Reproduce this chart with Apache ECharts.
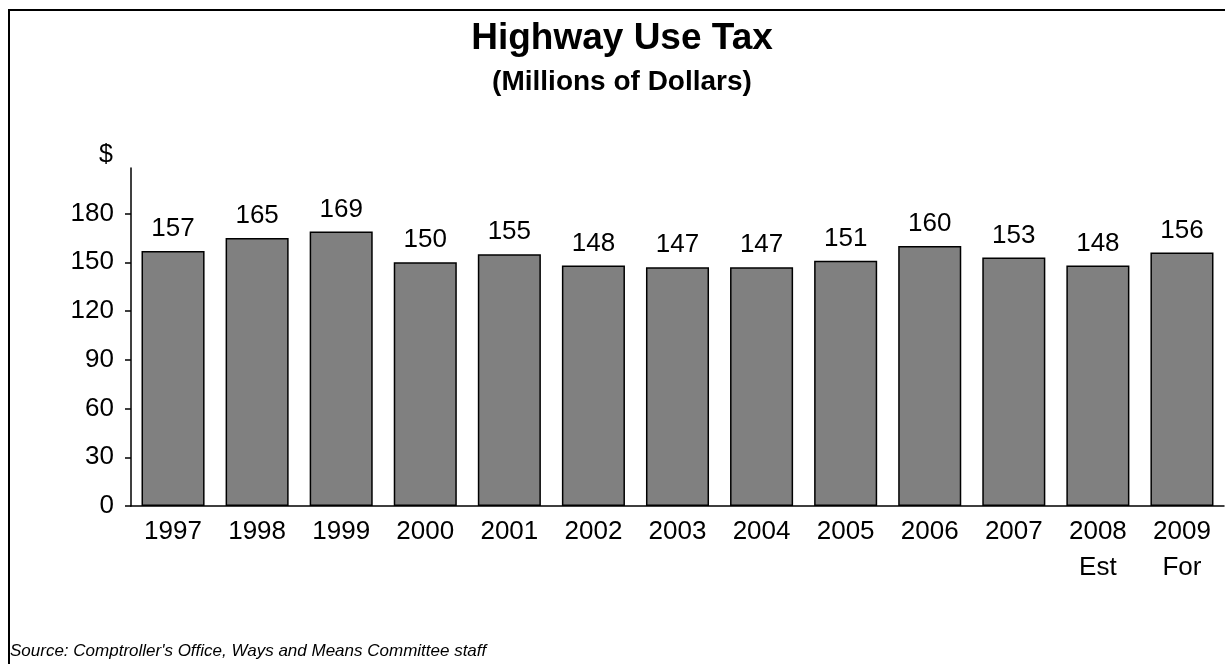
<!DOCTYPE html>
<html>
<head>
<meta charset="utf-8">
<title>Highway Use Tax</title>
<script src="https://cdn.jsdelivr.net/npm/echarts@6/dist/echarts.min.js"></script>
<style>
  html, body { margin: 0; padding: 0; background: #fff; overflow: hidden; }
  #chart { width: 1225px; height: 664px; }
  /* outer frame of the original picture, cut off on the right and bottom */
  #frame {
    position: absolute; left: 8px; top: 9px; width: 1400px; height: 800px;
    border-top: 2px solid #000; border-left: 2px solid #000;
    pointer-events: none;
  }
</style>
</head>
<body>
<div id="chart"></div>
<div id="frame"></div>
<script>
// data
var years = ['1997', '1998', '1999', '2000', '2001', '2002', '2003', '2004', '2005', '2006', '2007', '2008', '2009'];
var yearNotes = ['', '', '', '', '', '', '', '', '', '', '', 'Est', 'For'];
var taxValues = [157, 165, 169, 150, 155, 148, 147, 147, 151, 160, 153, 148, 156];
var yTicks = [0, 30, 60, 90, 120, 150, 180];

var font = "'Liberation Sans', Arial, sans-serif";

var categories = years.map(function (y, i) {
  return yearNotes[i] ? y + '\n' + yearNotes[i] : y;
});

var chart = echarts.init(document.getElementById('chart'));

var option = {
  animation: false,
  textStyle: { fontFamily: font, color: '#000' },
  title: [
    {
      text: 'Highway Use Tax',
      left: 617, top: 15,
      textAlign: 'center',
      textStyle: { fontFamily: font, fontSize: 37, fontWeight: 'bold', color: '#000' }
    },
    {
      text: '(Millions of Dollars)',
      left: 617, top: 63,
      textAlign: 'center',
      textStyle: { fontFamily: font, fontSize: 28, fontWeight: 'bold', color: '#000' }
    },
    {
      text: "Source: Comptroller's Office, Ways and Means Committee staff",
      left: 10, top: 643,
      padding: 0,
      textStyle: { fontFamily: font, fontSize: 17, fontStyle: 'italic', fontWeight: 'normal', color: '#000' }
    }
  ],
  grid: { left: 131, right: 1, top: 168, bottom: 158, containLabel: false },
  xAxis: {
    type: 'category',
    data: categories,
    axisLine: { lineStyle: { color: '#000', width: 1.5 } },
    axisTick: { show: false },
    axisLabel: {
      margin: 8,
      interval: 0,
      fontFamily: font,
      fontSize: 26,
      lineHeight: 36,
      color: '#000'
    }
  },
  yAxis: {
    type: 'value',
    min: 0,
    max: 208,
    interval: 30,
    name: '$',
    nameLocation: 'end',
    nameGap: 13,
    nameTextStyle: {
      fontFamily: font, fontSize: 25, color: '#000',
      align: 'right', verticalAlign: 'middle', padding: [0, 18, 0, 0]
    },
    axisLine: { show: true, lineStyle: { color: '#000', width: 1.5 } },
    axisTick: { show: true, length: 6, lineStyle: { color: '#000', width: 1.5 }, customValues: yTicks },
    axisLabel: { margin: 17, fontFamily: font, fontSize: 26, color: '#000', customValues: yTicks },
    splitLine: { show: false }
  },
  series: [
    {
      type: 'bar',
      data: taxValues,
      barWidth: '75%',
      itemStyle: { color: '#808080', borderColor: '#000', borderWidth: 1.5 },
      label: {
        show: true,
        position: 'top',
        distance: 9,
        fontFamily: font,
        fontSize: 26,
        color: '#000'
      }
    }
  ]
};

chart.setOption(option);
</script>
</body>
</html>
